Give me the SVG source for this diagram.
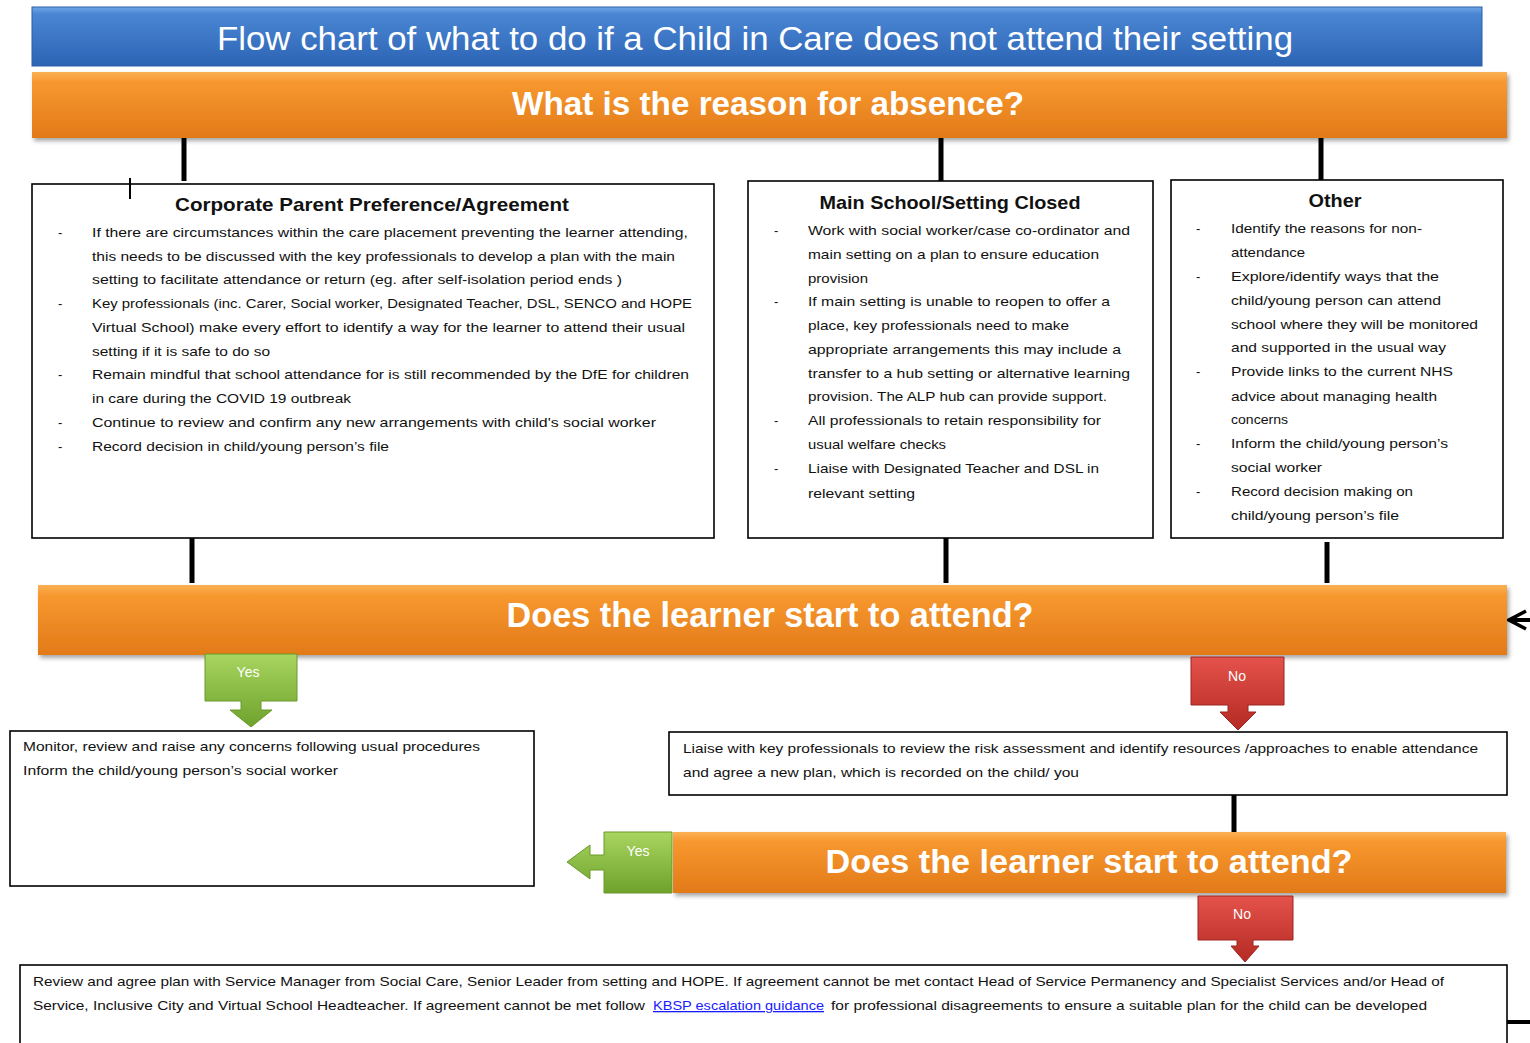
<svg xmlns="http://www.w3.org/2000/svg" width="1530" height="1043" viewBox="0 0 1530 1043">
<defs>
<linearGradient id="gBlue" x1="0" y1="0" x2="0" y2="1"><stop offset="0" stop-color="#6fa6e6"/><stop offset="0.12" stop-color="#4a86d4"/><stop offset="1" stop-color="#2c64b4"/></linearGradient>
<linearGradient id="gOrange" x1="0" y1="0" x2="0" y2="1"><stop offset="0" stop-color="#fbb155"/><stop offset="0.15" stop-color="#f7982f"/><stop offset="1" stop-color="#e27a18"/></linearGradient>
<linearGradient id="gGreen" x1="0" y1="0" x2="0" y2="1"><stop offset="0" stop-color="#a8d560"/><stop offset="1" stop-color="#6ea22c"/></linearGradient>
<linearGradient id="gRed" x1="0" y1="0" x2="0" y2="1"><stop offset="0" stop-color="#e4524b"/><stop offset="1" stop-color="#b52a24"/></linearGradient>
<filter id="sh" x="-5%" y="-20%" width="110%" height="150%"><feDropShadow dx="2" dy="3" stdDeviation="2" flood-color="#000" flood-opacity="0.35"/></filter>
<marker id="arr" viewBox="0 0 22 22" refX="19" refY="11" markerWidth="22" markerHeight="22" markerUnits="userSpaceOnUse" orient="auto"><path d="M2 2 L19 11 L2 20" fill="none" stroke="#000" stroke-width="3.5"/></marker>
</defs>
<style>
.box{fill:#fff;stroke:#000;stroke-width:1.6}
.t{font-family:"Liberation Sans",Arial,sans-serif;font-size:13px;fill:#111}
.h{font-family:"Liberation Sans",Arial,sans-serif;font-size:19px;font-weight:bold;fill:#111;text-anchor:middle}
.big{font-family:"Liberation Sans",Arial,sans-serif;font-weight:bold;fill:#fff;text-anchor:middle}
.lab{font-family:"Liberation Sans",Arial,sans-serif;font-size:14px;fill:#fff;text-anchor:middle}
.con{stroke:#000;stroke-width:5;fill:none}
.link{fill:#1a1aff;text-decoration:underline}
</style>
<rect width="1530" height="1043" fill="#fff"/>

<g id="title">
<rect x="32" y="7" width="1450" height="59" fill="url(#gBlue)" stroke="#2a5ea8" stroke-width="1"/>
<text x="755" y="50" font-family="Liberation Sans,Arial,sans-serif" font-size="34" fill="#fff" text-anchor="middle" textLength="1076" lengthAdjust="spacingAndGlyphs">Flow chart of what to do if a Child in Care does not attend their setting</text>
</g>

<g id="connectors">
<line class="con" x1="184" y1="138" x2="184" y2="181"/>
<line class="con" x1="941" y1="138" x2="941" y2="181"/>
<line class="con" x1="1321" y1="138" x2="1321" y2="180"/>
<line class="con" x1="192" y1="538" x2="192" y2="583"/>
<line class="con" x1="946" y1="538" x2="946" y2="583"/>
<line class="con" x1="1327" y1="542" x2="1327" y2="583"/>
<line class="con" x1="1234" y1="795" x2="1234" y2="832"/>
<path d="M1507 1022 H1550 V620 H1509" stroke="#000" stroke-width="4" fill="none" marker-end="url(#arr)"/>
</g>

<g id="reason">
<rect x="32" y="72" width="1475" height="66" fill="url(#gOrange)" filter="url(#sh)"/>
<text class="big" x="768" y="115" font-size="33" textLength="512" lengthAdjust="spacingAndGlyphs">What is the reason for absence?</text>
</g>

<g id="corporate">
<rect class="box" x="32" y="184" width="682" height="354"/>
<line x1="130" y1="178" x2="130" y2="199" stroke="#000" stroke-width="2"/>
<text class="h" x="372" y="211" textLength="394" lengthAdjust="spacingAndGlyphs">Corporate Parent Preference/Agreement</text>
<g class="t">
<text x="58" y="237">-</text><text x="92" y="237" textLength="596" lengthAdjust="spacingAndGlyphs">If there are circumstances within the care placement preventing the learner attending,</text>
<text x="92" y="261" textLength="583" lengthAdjust="spacingAndGlyphs">this needs to be discussed with the key professionals to develop a plan with the main</text>
<text x="92" y="284" textLength="530" lengthAdjust="spacingAndGlyphs">setting to facilitate attendance or return (eg. after self-isolation period ends )</text>
<text x="58" y="308">-</text><text x="92" y="308" textLength="600" lengthAdjust="spacingAndGlyphs">Key professionals (inc. Carer, Social worker, Designated Teacher, DSL, SENCO and HOPE</text>
<text x="92" y="332" textLength="593" lengthAdjust="spacingAndGlyphs">Virtual School) make every effort to identify a way for the learner to attend their usual</text>
<text x="92" y="356" textLength="178" lengthAdjust="spacingAndGlyphs">setting if it is safe to do so</text>
<text x="58" y="379">-</text><text x="92" y="379" textLength="597" lengthAdjust="spacingAndGlyphs">Remain mindful that school attendance for is still recommended by the DfE for children</text>
<text x="92" y="403" textLength="259" lengthAdjust="spacingAndGlyphs">in care during the COVID 19 outbreak</text>
<text x="58" y="427">-</text><text x="92" y="427" textLength="564" lengthAdjust="spacingAndGlyphs">Continue to review and confirm any new arrangements with child's social worker</text>
<text x="58" y="451">-</text><text x="92" y="451" textLength="297" lengthAdjust="spacingAndGlyphs">Record decision in child/young person’s file</text>
</g>
</g>

<g id="closed">
<rect class="box" x="748" y="181" width="405" height="357"/>
<text class="h" x="950" y="209" textLength="261" lengthAdjust="spacingAndGlyphs">Main School/Setting Closed</text>
<g class="t">
<text x="774" y="235">-</text><text x="808" y="235" textLength="322" lengthAdjust="spacingAndGlyphs">Work with social worker/case co-ordinator and</text>
<text x="808" y="259" textLength="291" lengthAdjust="spacingAndGlyphs">main setting on a plan to ensure education</text>
<text x="808" y="283" textLength="60" lengthAdjust="spacingAndGlyphs">provision</text>
<text x="774" y="306">-</text><text x="808" y="306" textLength="302" lengthAdjust="spacingAndGlyphs">If main setting is unable to reopen to offer a</text>
<text x="808" y="330" textLength="261" lengthAdjust="spacingAndGlyphs">place, key professionals need to make</text>
<text x="808" y="354" textLength="313" lengthAdjust="spacingAndGlyphs">appropriate arrangements this may include a</text>
<text x="808" y="378" textLength="322" lengthAdjust="spacingAndGlyphs">transfer to a hub setting or alternative learning</text>
<text x="808" y="401" textLength="299" lengthAdjust="spacingAndGlyphs">provision. The ALP hub can provide support.</text>
<text x="774" y="425">-</text><text x="808" y="425" textLength="293" lengthAdjust="spacingAndGlyphs">All professionals to retain responsibility for</text>
<text x="808" y="449" textLength="138" lengthAdjust="spacingAndGlyphs">usual welfare checks</text>
<text x="774" y="473">-</text><text x="808" y="473" textLength="291" lengthAdjust="spacingAndGlyphs">Liaise with Designated Teacher and DSL in</text>
<text x="808" y="498" textLength="107" lengthAdjust="spacingAndGlyphs">relevant setting</text>
</g>
</g>

<g id="other">
<rect class="box" x="1171" y="180" width="332" height="358"/>
<text class="h" x="1335" y="207" textLength="53" lengthAdjust="spacingAndGlyphs">Other</text>
<g class="t">
<text x="1196" y="233">-</text><text x="1231" y="233" textLength="191" lengthAdjust="spacingAndGlyphs">Identify the reasons for non-</text>
<text x="1231" y="257" textLength="74" lengthAdjust="spacingAndGlyphs">attendance</text>
<text x="1196" y="281">-</text><text x="1231" y="281" textLength="208" lengthAdjust="spacingAndGlyphs">Explore/identify ways that the</text>
<text x="1231" y="305" textLength="210" lengthAdjust="spacingAndGlyphs">child/young person can attend</text>
<text x="1231" y="329" textLength="247" lengthAdjust="spacingAndGlyphs">school where they will be monitored</text>
<text x="1231" y="352" textLength="215" lengthAdjust="spacingAndGlyphs">and supported in the usual way</text>
<text x="1196" y="376">-</text><text x="1231" y="376" textLength="222" lengthAdjust="spacingAndGlyphs">Provide links to the current NHS</text>
<text x="1231" y="401" textLength="206" lengthAdjust="spacingAndGlyphs">advice about managing health</text>
<text x="1231" y="424" textLength="57" lengthAdjust="spacingAndGlyphs">concerns</text>
<text x="1196" y="448">-</text><text x="1231" y="448" textLength="217" lengthAdjust="spacingAndGlyphs">Inform the child/young person’s</text>
<text x="1231" y="472" textLength="91" lengthAdjust="spacingAndGlyphs">social worker</text>
<text x="1196" y="496">-</text><text x="1231" y="496" textLength="182" lengthAdjust="spacingAndGlyphs">Record decision making on</text>
<text x="1231" y="520" textLength="168" lengthAdjust="spacingAndGlyphs">child/young person’s file</text>
</g>
</g>

<g id="attend1">
<rect x="38" y="585" width="1469" height="70" fill="url(#gOrange)" filter="url(#sh)"/>
<text class="big" x="770" y="627" font-size="35" textLength="527" lengthAdjust="spacingAndGlyphs">Does the learner start to attend?</text>
</g>

<g id="yes1">
<path d="M205 654 H297 V701 H261 V710 H272 L251 727 L230 710 H241 V701 H205 Z" fill="url(#gGreen)" stroke="#6a9a2a" stroke-width="1"/>
<text class="lab" x="248" y="677">Yes</text>
</g>

<g id="no1">
<path d="M1191 657 H1284 V705 H1248 V712 H1256 L1238 730 L1220 712 H1228 V705 H1191 Z" fill="url(#gRed)" stroke="#9c2520" stroke-width="1"/>
<text class="lab" x="1237" y="681">No</text>
</g>

<g id="monitor">
<rect class="box" x="10" y="731" width="524" height="155"/>
<g class="t">
<text x="23" y="751" textLength="457" lengthAdjust="spacingAndGlyphs">Monitor, review and raise any concerns following usual procedures</text>
<text x="23" y="775" textLength="315" lengthAdjust="spacingAndGlyphs">Inform the child/young person’s social worker</text>
</g>
</g>

<g id="liaise">
<rect class="box" x="669" y="732" width="838" height="63"/>
<g class="t">
<text x="683" y="753" textLength="795" lengthAdjust="spacingAndGlyphs">Liaise with key professionals to review the risk assessment and identify resources /approaches to enable attendance</text>
<text x="683" y="777" textLength="396" lengthAdjust="spacingAndGlyphs">and agree a new plan, which is recorded on the child/ you</text>
</g>
</g>

<g id="attend2">
<rect x="673" y="832" width="833" height="61" fill="url(#gOrange)" filter="url(#sh)"/>
<text class="big" x="1089" y="873" font-size="34" textLength="527" lengthAdjust="spacingAndGlyphs">Does the learner start to attend?</text>
</g>

<g id="yes2">
<path d="M672 832 V893 H604 V870 H590 V879 L567 862 L590 845 V855 H604 V832 Z" fill="url(#gGreen)" stroke="#6a9a2a" stroke-width="1"/>
<text class="lab" x="638" y="856">Yes</text>
</g>

<g id="no2">
<path d="M1198 896 H1293 V940 H1253 V946 H1259 L1245 962 L1231 946 H1237 V940 H1198 Z" fill="url(#gRed)" stroke="#9c2520" stroke-width="1"/>
<text class="lab" x="1242" y="919">No</text>
</g>

<g id="review">
<rect class="box" x="20" y="965" width="1487" height="100"/>
<g class="t">
<text x="33" y="986" textLength="1411" lengthAdjust="spacingAndGlyphs">Review and agree plan with Service Manager from Social Care, Senior Leader from setting and HOPE. If agreement cannot be met contact Head of Service Permanency and Specialist Services and/or Head of</text>
<text x="33" y="1010" textLength="612" lengthAdjust="spacingAndGlyphs">Service, Inclusive City and Virtual School Headteacher. If agreement cannot be met follow</text>
<text class="link" x="653" y="1010" textLength="171" lengthAdjust="spacingAndGlyphs">KBSP escalation guidance</text>
<text x="831" y="1010" textLength="596" lengthAdjust="spacingAndGlyphs">for professional disagreements to ensure a suitable plan for the child can be developed</text>
</g>
</g>
</svg>
